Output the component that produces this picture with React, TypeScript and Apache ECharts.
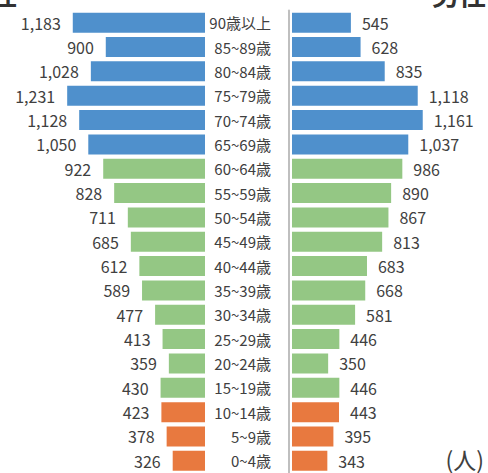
import React, { useEffect, useRef } from "react";
import * as echarts from "echarts";

const categories = [
  "0~4歳", "5~9歳", "10~14歳", "15~19歳", "20~24歳", "25~29歳", "30~34歳",
  "35~39歳", "40~44歳", "45~49歳", "50~54歳", "55~59歳", "60~64歳",
  "65~69歳", "70~74歳", "75~79歳", "80~84歳", "85~89歳", "90歳以上",
];
const female = [326, 378, 423, 430, 359, 413, 477, 589, 612, 685, 711, 828, 922, 1050, 1128, 1231, 1028, 900, 1183];
const male = [343, 395, 443, 446, 350, 446, 581, 668, 683, 813, 867, 890, 986, 1037, 1161, 1118, 835, 628, 545];

const ORANGE = "#E8793F";
const GREEN = "#94C784";
const BLUE = "#4F90CC";
const colorFor = (i: number) => (i < 3 ? ORANGE : i < 13 ? GREEN : BLUE);

const FONT = "'Noto Sans CJK JP', 'Noto Sans', sans-serif";
const fmt = (v: number) => String(v).replace(/\B(?=(\d{3})+(?!\d))/g, ",");

export default function App() {
  const ref = useRef<HTMLDivElement>(null);
  useEffect(() => {
    if (!ref.current) return;
    const chart = echarts.init(ref.current, null, { renderer: "svg" });
    const mk = (arr: number[]) =>
      arr.map((v, i) => ({ value: v, itemStyle: { color: colorFor(i) } }));
    chart.setOption({
      animation: false,
      textStyle: { fontFamily: FONT },
      grid: [
        { left: 12.5, width: 192.5, top: 10.5, height: 465.5 },
        { left: 292, width: 193.6, top: 10.5, height: 465.5 },
      ],
      xAxis: [
        { gridIndex: 0, type: "value", inverse: true, min: 49, max: 1700, show: false },
        { gridIndex: 1, type: "value", min: 40, max: 1700, show: false },
      ],
      yAxis: [
        {
          gridIndex: 0,
          type: "category",
          data: categories,
          position: "right",
          axisLine: { show: false },
          axisTick: { show: false },
          splitLine: { show: false },
          axisLabel: {
            margin: 66,
            align: "right",
            fontSize: 15,
            color: "#404040",
            fontFamily: FONT,
          },
        },
        {
          gridIndex: 1,
          type: "category",
          data: categories,
          position: "left",
          offset: 3,
          axisLine: { show: true, lineStyle: { color: "#BFBFBF", width: 2 } },
          axisTick: { show: false },
          axisLabel: { show: false },
          splitLine: { show: false },
        },
      ],
      series: [
        {
          type: "bar",
          xAxisIndex: 0,
          yAxisIndex: 0,
          data: mk(female),
          barWidth: 20,
          clip: true,
          label: {
            show: true,
            position: "left",
            distance: 12,
            fontSize: 16,
            color: "#404040",
            fontFamily: FONT,
            formatter: (p: any) => fmt(p.value),
          },
        },
        {
          type: "bar",
          xAxisIndex: 1,
          yAxisIndex: 1,
          data: mk(male),
          barWidth: 20,
          clip: true,
          label: {
            show: true,
            position: "right",
            distance: 11,
            fontSize: 16,
            color: "#404040",
            fontFamily: FONT,
            formatter: (p: any) => fmt(p.value),
          },
        },
      ],
      graphic: [
        {
          type: "text",
          x: 17,
          y: 7,
          style: {
            text: "女性",
            align: "right",
            verticalAlign: "bottom",
            fontSize: 27,
            fontWeight: "bold",
            fill: "#333333",
            fontFamily: FONT,
          },
        },
        {
          type: "text",
          x: 486,
          y: 7,
          style: {
            text: "男性",
            align: "right",
            verticalAlign: "bottom",
            fontSize: 27,
            fontWeight: "bold",
            fill: "#333333",
            fontFamily: FONT,
          },
        },
        {
          type: "text",
          x: 484,
          y: 459,
          style: {
            text: "(人)",
            align: "right",
            verticalAlign: "middle",
            fontSize: 23,
            fill: "#404040",
            fontFamily: FONT,
          },
        },
      ],
    });
    return () => chart.dispose();
  }, []);
  return <div ref={ref} style={{ width: 488, height: 473, position: "absolute", left: 0, top: 0 }} />;
}
